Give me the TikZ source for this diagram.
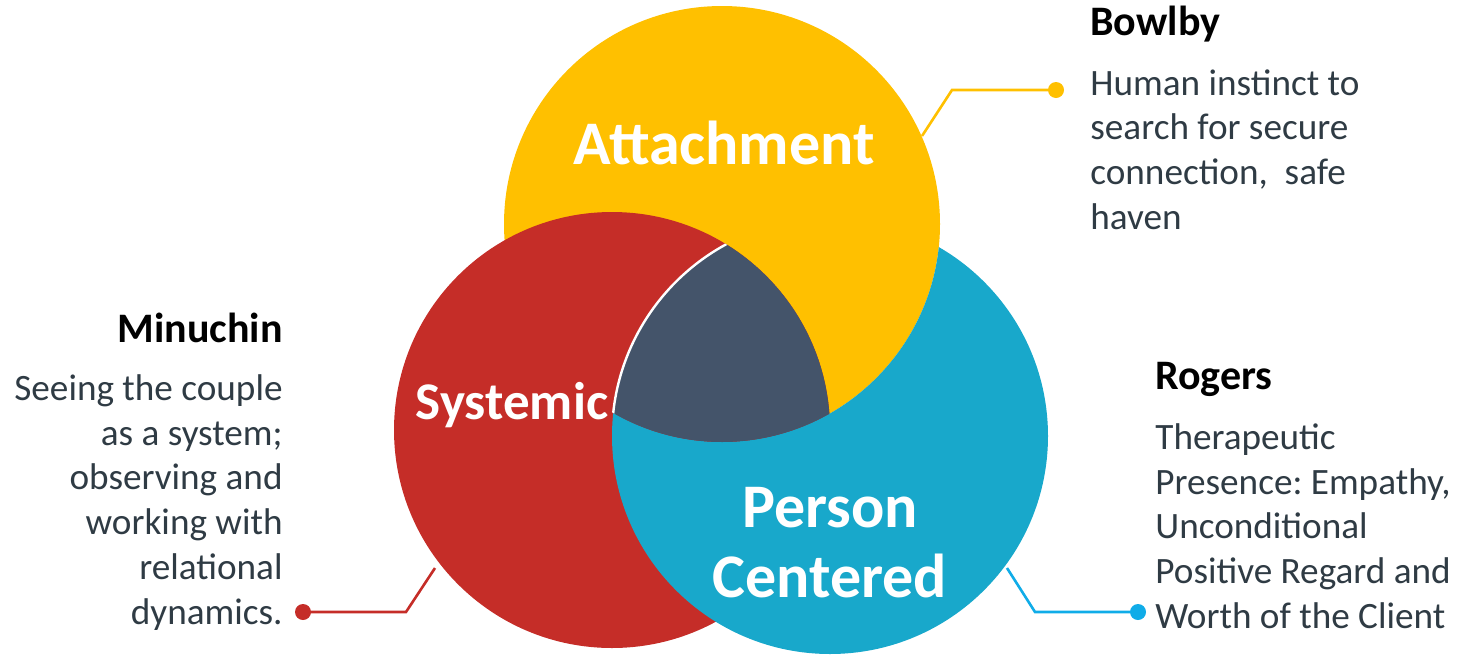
\documentclass[tikz,border=0pt]{standalone}
\usepackage{fontspec}
\setmainfont{Carlito}
\usepackage{tikz}
\definecolor{attyellow}{HTML}{FFC000}
\definecolor{sysred}{HTML}{C52D28}
\definecolor{pcblue}{HTML}{18A8CB}
\definecolor{coreslate}{HTML}{44546A}
\definecolor{bodytext}{HTML}{2F3B44}
\definecolor{leaderblue}{HTML}{10ACE8}
\frenchspacing

\begin{document}
\begin{tikzpicture}[x=0.5pt,y=-0.5pt,
    bigword/.style={text=white,font=\bfseries\fontsize{31}{35}\selectfont,align=center},
    heading/.style={inner sep=0pt,text=black,font=\bfseries\fontsize{21}{25}\selectfont},
    bodytxt/.style={inner sep=0pt,text=bodytext,font=\fontsize{18.6}{22.4}\selectfont},
    dot/.style={circle,fill,inner sep=0pt,minimum size=8pt},
    leader/.style={line width=1.3pt}]
  \useasboundingbox (0,0) rectangle (1467,654);
  \def\rr{109pt}
  % Cirklar
  \coordinate (att) at (722,224);
  \coordinate (sys) at (612,430);
  \coordinate (pc) at (830,436);
  \fill[attyellow] (att) circle[radius=\rr];
  \fill[sysred] (sys) circle[radius=\rr];
  \begin{scope}[even odd rule]
    \clip (0,0) rectangle (1467,654) (att) circle[radius=\rr];
    \fill[pcblue] (pc) circle[radius=\rr];
  \end{scope}
  % Mitten
  \begin{scope}
    \clip (att) circle[radius=\rr];
    \clip (sys) circle[radius=\rr];
    \fill[coreslate] (pc) circle[radius=\rr];
    \draw[white,line width=1.2pt] (pc) circle[radius=\rr];
  \end{scope}
  % Ord i cirklarna
  \node[bigword] (attLbl) at (724,143) {Attachment};
  \node[bigword,font=\bfseries\fontsize{26.5}{30}\selectfont] (sysLbl) at (512,405) {Systemic};
  \node[bigword] (pcLbl) at (830,543) {Person\\Centered};
  % Bowlby
  \node[heading,anchor=base west] (bowlby) at (1090,35) {Bowlby};
  \node[bodytxt,align=left,anchor=north west] (bowlbyTxt) at (1090,69)
    {Human instinct to\\search for secure\\connection,~ safe\\haven};
  % Minuchin
  \node[heading,anchor=base east] (minuchin) at (283,342) {Minuchin};
  \node[bodytxt,align=right,anchor=north east] (minuchinTxt) at (283,374)
    {Seeing the couple\\as a system;\\observing and\\working with\\relational\\dynamics.};
  % Rogers
  \node[heading,anchor=base west] (rogers) at (1155,389) {Rogers};
  \node[bodytxt,align=left,anchor=north west] (rogersTxt) at (1155,423)
    {Therapeutic\\Presence: Empathy,\\Unconditional\\Positive Regard and\\Worth of the Client};
  % Linjer
  \coordinate (attTip) at (922,136);
  \coordinate (attBend) at (952,90);
  \node[dot,attyellow] (attDot) at (1056,90) {};
  \draw[leader,attyellow] (attTip) -- (attBend) -- (attDot.center);
  \coordinate (sysTip) at (435,568);
  \coordinate (sysBend) at (406,612);
  \node[dot,sysred] (sysDot) at (303,612) {};
  \draw[leader,sysred] (sysTip) -- (sysBend) -- (sysDot.center);
  \coordinate (pcTip) at (1007,568);
  \coordinate (pcBend) at (1035,612);
  \node[dot,leaderblue] (pcDot) at (1138,612) {};
  \draw[leader,leaderblue] (pcTip) -- (pcBend) -- (pcDot.center);
\end{tikzpicture}
\end{document}
